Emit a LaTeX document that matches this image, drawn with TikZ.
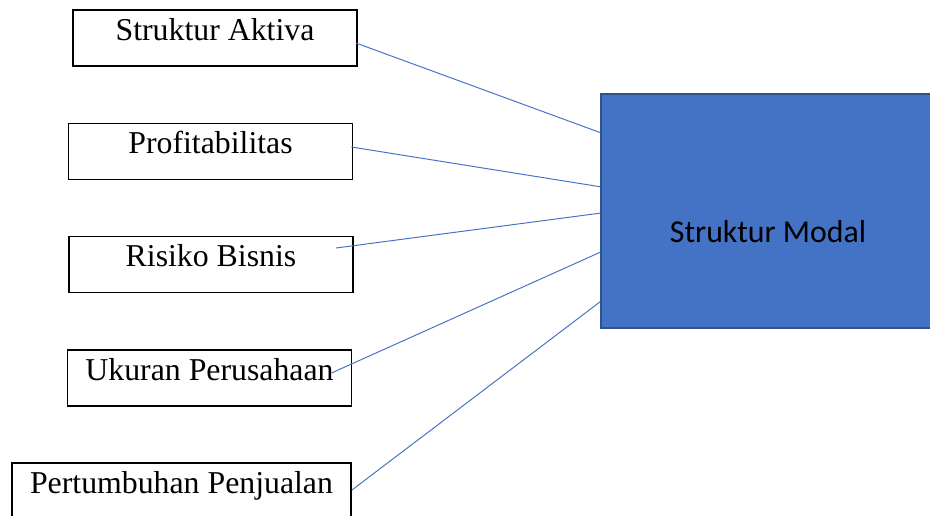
\documentclass[tikz,border=0pt]{standalone}
\usepackage{fontspec}
\setmainfont{Liberation Serif}
\newfontfamily\calibri{Carlito}
\usetikzlibrary{calc}
\definecolor{modalblue}{HTML}{4472C4}
\definecolor{modaledge}{HTML}{2F528F}

\begin{document}
\begin{tikzpicture}[x=0.02cm,y=-0.02cm,
  var/.style={draw,line width=1.1pt,inner sep=0pt,minimum width=5.68cm,
    minimum height=1.12cm,text height=0.6cm,text depth=0.52cm,
    font=\fontsize{18.1}{21}\selectfont},
  link/.style={draw=modalblue,line width=0.55pt}]
\useasboundingbox (0,0) rectangle (930,515);
\fill[white] (0,0) rectangle (930,515);

\node[var] (sa) at (215,38) {Struktur Aktiva};
\node[var] (pr) at (210.5,151.5) {Profitabilitas};
\node[var] (rb) at (211,264.5) {Risiko Bisnis};
\node[var] (up) at (209.5,378) {Ukuran Perusahaan};
\node[var,minimum width=6.78cm] (pp) at (181.5,491) {Pertumbuhan Penjualan};

\node[fill=modalblue,draw=modaledge,line width=0.8pt,inner sep=0pt,
  minimum width=6.68cm,minimum height=4.68cm,text height=2.96cm,text depth=1.72cm,
  font=\calibri\fontsize{18.1}{21}\selectfont] (sm) at (768,211) {Struktur Modal};

\draw[link] ($(sa.east)+(-2,5)$) -- ($(sm.north west)!0.167!(sm.south west)$);
\draw[link] ($(pr.east)+(-2,-4.5)$) -- ($(sm.north west)!0.397!(sm.south west)$);
\draw[link] ($(rb.east)+(-18,-16.5)$) -- ($(sm.north west)!0.509!(sm.south west)$);
\draw[link] ($(up.east)+(-21,-5)$) -- ($(sm.north west)!0.675!(sm.south west)$);
\draw[link] ($(pp.east)+(0,-1)$) -- ($(sm.north west)!0.885!(sm.south west)$);
\end{tikzpicture}
\end{document}
